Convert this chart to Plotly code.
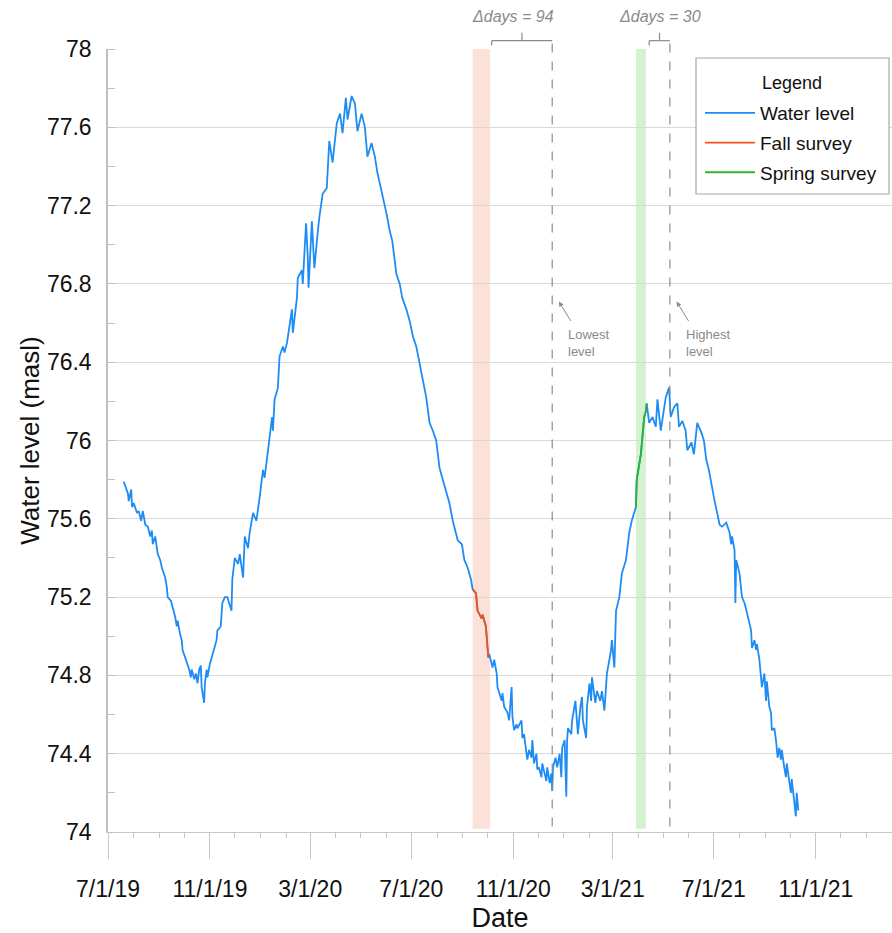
import plotly.graph_objects as go
import pandas as pd

# ---------------- data ----------------
start_date = "2019-07-01"
day_offsets = [
    19, 24, 25, 28, 29, 31, 35, 37, 40, 42,
    45, 48, 51, 53, 54, 57, 60, 63, 65, 69,
    71, 72, 76, 78, 81, 83, 84, 87, 89, 90,
    93, 95, 98, 100, 101, 104, 106, 108, 110, 112,
    113, 116, 117, 119, 120, 123, 125, 128, 131, 132,
    136, 138, 141, 144, 149, 150, 153, 157, 159, 163,
    165, 169, 171, 175, 179, 183, 187, 189, 192, 195,
    198, 199, 201, 205, 207, 211, 213, 216, 219, 222,
    223, 228, 229, 234, 235, 239, 241, 242, 246, 249,
    253, 255, 259, 264, 267, 271, 276, 280, 283, 287,
    289, 294, 298, 301, 306, 310, 312, 313, 318, 322,
    325, 331, 336, 340, 343, 348, 352, 355, 360, 364,
    368, 372, 376, 380, 384, 388, 392, 396, 400, 404,
    412, 416, 422, 427, 430, 434, 438, 440, 444, 446,
    451, 452, 456, 458, 459, 460, 464, 466, 469, 470,
    472, 475, 476, 478, 482, 484, 487, 488, 490, 493,
    494, 499, 500, 502, 505, 506, 508, 511, 512, 514,
    517, 518, 520, 523, 524, 527, 529, 530, 533, 535,
    536, 537, 540, 542, 545, 547, 548, 551, 553, 554,
    555, 559, 560, 564, 565, 567, 570, 572, 573, 577,
    578, 581, 583, 584, 588, 590, 594, 596, 599, 601,
    602, 605, 607, 608, 611, 613, 617, 620, 625, 629,
    632, 637, 638, 643, 647, 649, 650, 653, 657, 661,
    663, 667, 671, 673, 677, 679, 683, 687, 689, 693,
    697, 699, 704, 707, 711, 716, 719, 722, 725, 729,
    732, 738, 741, 746, 750, 752, 753, 756, 757, 758,
    762, 765, 768, 771, 776, 777, 780, 782, 783, 786,
    788, 789, 792, 794, 795, 798, 800, 801, 804, 806,
    808, 810, 812, 813, 816, 818, 819, 822, 824, 825,
    828, 830, 831, 833]
water_level = [
    75.79, 75.73, 75.69, 75.75, 75.66, 75.68, 75.63, 75.64, 75.59, 75.64,
    75.57, 75.56, 75.51, 75.54, 75.47, 75.51, 75.42, 75.39, 75.35, 75.30,
    75.25, 75.20, 75.18, 75.15, 75.10, 75.05, 75.08, 75.01, 74.98, 74.93,
    74.89, 74.86, 74.83, 74.79, 74.83, 74.78, 74.81, 74.76, 74.83, 74.85,
    74.74, 74.66, 74.76, 74.83, 74.79, 74.86, 74.89, 74.94, 74.98, 75.03,
    75.05, 75.17, 75.20, 75.20, 75.13, 75.29, 75.40, 75.37, 75.42, 75.30,
    75.51, 75.45, 75.53, 75.63, 75.59, 75.71, 75.85, 75.81, 75.91, 76.00,
    76.12, 76.05, 76.21, 76.27, 76.43, 76.48, 76.45, 76.50, 76.58, 76.67,
    76.55, 76.73, 76.83, 76.87, 76.80, 77.11, 76.94, 76.78, 77.12, 76.88,
    77.06, 77.14, 77.26, 77.29, 77.53, 77.42, 77.62, 77.67, 77.57, 77.75,
    77.64, 77.76, 77.72, 77.58, 77.67, 77.60, 77.50, 77.45, 77.52, 77.45,
    77.37, 77.26, 77.16, 77.07, 77.02, 76.85, 76.80, 76.73, 76.67, 76.61,
    76.53, 76.48, 76.39, 76.31, 76.22, 76.09, 76.05, 76.00, 75.86, 75.80,
    75.68, 75.59, 75.49, 75.47, 75.39, 75.35, 75.29, 75.24, 75.22, 75.13,
    75.09, 75.11, 75.05, 74.94, 74.89, 74.91, 74.84, 74.88, 74.81, 74.74,
    74.71, 74.67, 74.71, 74.64, 74.61, 74.57, 74.74, 74.59, 74.52, 74.55,
    74.53, 74.57, 74.48, 74.50, 74.40, 74.37, 74.42, 74.38, 74.47, 74.35,
    74.40, 74.32, 74.33, 74.28, 74.35, 74.30, 74.26, 74.33, 74.25, 74.30,
    74.21, 74.33, 74.38, 74.33, 74.40, 74.28, 74.43, 74.47, 74.18, 74.47,
    74.53, 74.50, 74.57, 74.67, 74.61, 74.50, 74.64, 74.69, 74.57, 74.48,
    74.64, 74.76, 74.67, 74.79, 74.66, 74.72, 74.67, 74.72, 74.62, 74.76,
    74.81, 74.88, 74.93, 74.98, 74.84, 75.13, 75.20, 75.32, 75.39, 75.53,
    75.59, 75.66, 75.80, 75.93, 76.12, 76.15, 76.19, 76.09, 76.12, 76.07,
    76.21, 76.05, 76.15, 76.22, 76.27, 76.12, 76.17, 76.19, 76.07, 76.10,
    76.05, 75.95, 75.99, 75.93, 76.09, 76.04, 76.00, 75.90, 75.85, 75.75,
    75.69, 75.57, 75.56, 75.58, 75.53, 75.47, 75.51, 75.44, 75.17, 75.39,
    75.32, 75.20, 75.17, 75.12, 75.03, 74.94, 74.98, 74.93, 74.96, 74.88,
    74.79, 74.74, 74.81, 74.67, 74.77, 74.64, 74.61, 74.52, 74.53, 74.47,
    74.38, 74.43, 74.37, 74.42, 74.33, 74.28, 74.35, 74.25, 74.20, 74.27,
    74.16, 74.08, 74.20, 74.11]
assert len(day_offsets) == len(water_level)

fall_survey_days = (440, 459)        # portion of the record during the fall survey
spring_survey_days = (637, 650)      # portion of the record during the spring survey
fall_band = ("2020-09-13", "2020-10-04")
spring_band = ("2021-03-29", "2021-04-10")
lowest_level_date = "2020-12-18"
highest_level_date = "2021-05-09"
fall_gap_start = "2020-10-06"
spring_gap_start = "2021-04-14"
fall_gap_label = "Δdays = 94"
spring_gap_label = "Δdays = 30"

y_tick_vals = [74, 74.4, 74.8, 75.2, 75.6, 76, 76.4, 76.8, 77.2, 77.6, 78]
y_tick_text = ["74", "74.4", "74.8", "75.2", "75.6", "76", "76.4", "76.8", "77.2", "77.6", "78"]
x_range = ["2019-07-01", "2022-02-01"]

# ---------------- build ----------------
dates = pd.to_datetime(start_date) + pd.to_timedelta(day_offsets, unit="D")
df = pd.DataFrame({"day": day_offsets, "date": dates, "level": water_level})
fall = df[(df.day >= fall_survey_days[0]) & (df.day <= fall_survey_days[1])]
spring = df[(df.day >= spring_survey_days[0]) & (df.day <= spring_survey_days[1])]

BLUE = "#1E8CF5"
ORANGE = "#F4511E"
GREEN = "#34B234"
GRAY = "#8a8a8a"
FONT = "Liberation Sans, Arial, sans-serif"

fig = go.Figure()
fig.add_trace(go.Scatter(x=df.date, y=df.level, mode="lines", name="Water level",
                         line=dict(color=BLUE, width=1.8), legendgroup="a"))
fig.add_trace(go.Scatter(x=fall.date, y=fall.level, mode="lines", name="Fall survey",
                         line=dict(color=ORANGE, width=1.8), legendgroup="b"))
fig.add_trace(go.Scatter(x=spring.date, y=spring.level, mode="lines", name="Spring survey",
                         line=dict(color=GREEN, width=1.8), legendgroup="c"))

shapes = []
# survey bands
for (a, b), col in [(fall_band, "rgba(250,200,185,0.55)"), (spring_band, "rgba(160,225,150,0.45)")]:
    shapes.append(dict(type="rect", xref="x", yref="paper", x0=a, x1=b, y0=0.004, y1=1.0,
                       fillcolor=col, line=dict(width=0), layer="below"))
# dashed reference lines
for d in [lowest_level_date, highest_level_date]:
    shapes.append(dict(type="line", xref="x", yref="paper", x0=d, x1=d, y0=0.007, y1=1.0106,
                       line=dict(color="#8c8c8c", width=1.2, dash="dash")))
# brackets
yb, ytip, yend = 1.0106, 1.0206, 1.0046
for a, b in [(fall_gap_start, lowest_level_date), (spring_gap_start, highest_level_date)]:
    mid = pd.to_datetime(a) + (pd.to_datetime(b) - pd.to_datetime(a)) / 2
    shapes.append(dict(type="line", xref="x", yref="paper", x0=a, x1=b, y0=yb, y1=yb,
                       line=dict(color=GRAY, width=1.2)))
    shapes.append(dict(type="line", xref="x", yref="paper", x0=a, x1=a, y0=yb, y1=yend,
                       line=dict(color=GRAY, width=1.2)))
    shapes.append(dict(type="line", xref="x", yref="paper", x0=mid, x1=mid, y0=yb, y1=ytip,
                       line=dict(color=GRAY, width=1.2)))
# legend frame
shapes.append(dict(type="rect", xref="paper", yref="paper", x0=0.75, x1=0.9962, y0=0.8148, y1=0.9885,
                   fillcolor="white", line=dict(color="#a6a6a6", width=1.2), layer="above"))

annotations = []
for (a, b, txt), shift in zip([(fall_gap_start, lowest_level_date, fall_gap_label),
                               (spring_gap_start, highest_level_date, spring_gap_label)], [-9, 0]):
    mid = pd.to_datetime(a) + (pd.to_datetime(b) - pd.to_datetime(a)) / 2
    annotations.append(dict(x=mid, y=1.042, xref="x", yref="paper", text="<i>" + txt + "</i>",
                            showarrow=False, font=dict(family=FONT, size=16, color=GRAY),
                            xanchor="center", yanchor="middle", xshift=shift))

for d, label in [(lowest_level_date, "Lowest<br>level"), (highest_level_date, "Highest<br>level")]:
    head = pd.to_datetime(d) + pd.Timedelta(days=8)
    annotations.append(dict(x=head, y=76.71, xref="x", yref="y", text="", showarrow=True,
                            ax=13, ay=21, arrowhead=2, arrowsize=1, arrowwidth=1, arrowcolor=GRAY))
    annotations.append(dict(x=pd.to_datetime(d) + pd.Timedelta(days=17), y=76.59, xref="x", yref="y",
                            text=label, showarrow=False, align="left", xanchor="left", yanchor="top",
                            font=dict(family=FONT, size=13, color=GRAY)))
# legend heading
annotations.append(dict(x=0.8724, y=0.9566, xref="paper", yref="paper", text="Legend", showarrow=False,
                        xanchor="center", yanchor="middle", font=dict(family=FONT, size=18, color="#111111")))

fig.update_layout(
    width=892, height=933,
    margin=dict(l=108, r=0, t=49, b=101),
    paper_bgcolor="white", plot_bgcolor="white",
    font=dict(family=FONT, color="#111111"),
    shapes=shapes, annotations=annotations,
    showlegend=True,
    legend=dict(x=0.7551, y=0.9425, xanchor="left", yanchor="top",
                bgcolor="rgba(0,0,0,0)", borderwidth=0,
                font=dict(family=FONT, size=19, color="#111111"),
                traceorder="grouped", tracegroupgap=2, itemwidth=50),
    xaxis=dict(type="date", range=x_range, showgrid=False, showline=True, linecolor="#c8c8c8", linewidth=1.4,
               ticks="outside", ticklen=26, tickwidth=1.3, tickcolor="#c8c8c8",
               tick0="2019-07-01", dtick="M4", tickformat="%-m/%-d/%y",
               ticklabelstandoff=10,
               tickfont=dict(family=FONT, size=23, color="#111111"),
               minor=dict(dtick="M1", ticks="outside", ticklen=5, tickcolor="#c8c8c8", tickwidth=1.2, showgrid=False),
               title=dict(text="Date", font=dict(family=FONT, size=27, color="#111111"), standoff=10),
               zeroline=False),
    yaxis=dict(range=[74, 78], tickvals=y_tick_vals, ticktext=y_tick_text, showgrid=True, gridcolor="#d9d9d9",
               gridwidth=1.3, showline=True, linecolor="#bfbfbf", linewidth=1.5, ticks="",
               ticklabelstandoff=10,
               tickfont=dict(family=FONT, size=23, color="#111111"),
               minor=dict(dtick=0.2, tick0=74, ticks="inside", ticklen=7, tickcolor="#bfbfbf", tickwidth=1.2, showgrid=False),
               title=dict(text="Water level (masl)", font=dict(family=FONT, size=26, color="#111111"), standoff=0),
               zeroline=False),
)

# remove the default 8px page margin so the 892x933 figure fills the window exactly
fig.write_html("out.html", config={"displayModeBar": False},
               post_script="document.body.style.margin='0';document.body.style.overflow='hidden';")
